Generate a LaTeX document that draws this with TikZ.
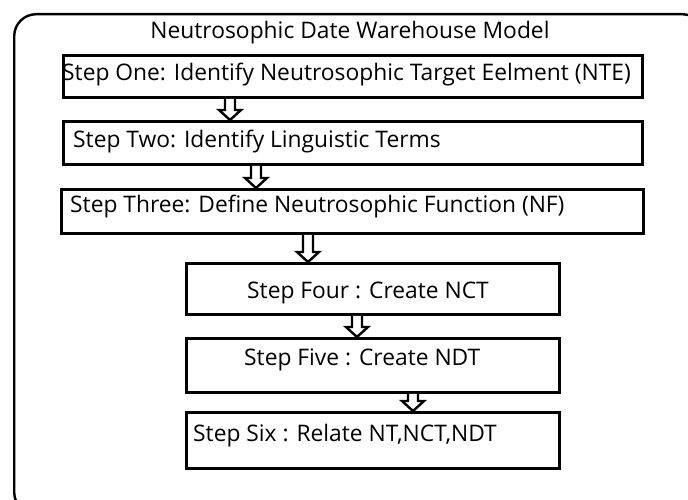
\documentclass[tikz,border=0pt]{standalone}
\usepackage{fontspec}
\setmainfont{Open Sans}
\usetikzlibrary{calc}
\tikzset{
  stepbox/.style={draw, line width=2.8pt, rectangle, inner sep=0pt},
  steptext/.style={anchor=west, inner sep=0pt, font=\fontsize{22.8}{26}\selectfont},
  frame/.style={draw, line width=2.4pt, rounded corners=22pt},
  hollow/.style={draw, line width=2.4pt, line join=miter, fill=white}
}
\newcommand{\harrow}[3]{%
  \draw[hollow]
    ($(#2.south -| #1,0)+(-5,0)$) --
    ($(#3.north -| #1,0)+(-5,-10)$) --
    ($(#3.north -| #1,0)+(-11,-10)$) --
    ($(#3.north -| #1,0)$) --
    ($(#3.north -| #1,0)+(11,-10)$) --
    ($(#3.north -| #1,0)+(5,-10)$) --
    ($(#2.south -| #1,0)+(5,0)$);
}
\begin{document}
\begin{tikzpicture}[x=1pt,y=-1pt]
\useasboundingbox (0,0) rectangle (688,500);
\begin{scope}
\clip (0,0) rectangle (688,500);
\node[frame, minimum width=690pt, minimum height=500pt, anchor=north west] (outer) at (13,13) {};
\end{scope}
\node[anchor=center, inner sep=0pt, font=\fontsize{22.8}{26}\selectfont] (title) at (350,33) {Neutrosophic Date Warehouse Model};

\node[stepbox, minimum width=579pt, minimum height=42pt, anchor=north west] (b1) at (62,54) {};
\node[stepbox, minimum width=579pt, minimum height=43pt, anchor=north west] (b2) at (62,120) {};
\node[stepbox, minimum width=582pt, minimum height=44pt, anchor=north west] (b3) at (60,188) {};
\node[stepbox, minimum width=373pt, minimum height=51pt, anchor=north west] (b4) at (185,262) {};
\node[stepbox, minimum width=373pt, minimum height=54pt, anchor=north west] (b5) at (185,337) {};
\node[stepbox, minimum width=373pt, minimum height=56pt, anchor=north west] (b6) at (185,411) {};

\node[steptext] (t1) at (62,75) {Step One: Identify Neutrosophic Target Eelment (NTE)};
\node[steptext] (t2) at (73,142) {Step Two: Identify Linguistic Terms};
\node[steptext] (t3) at (70,207) {Step Three: Define Neutrosophic Function (NF)};
\node[steptext] (t4) at (247,293) {Step Four : Create NCT};
\node[steptext] (t5) at (244,360) {Step Five : Create NDT};
\node[steptext] (t6) at (193,436) {Step Six : Relate NT,NCT,NDT};

\harrow{230}{b1}{b2}
\harrow{256}{b2}{b3}
\harrow{308}{b3}{b4}
\harrow{357}{b4}{b5}
\harrow{413}{b5}{b6}
\end{tikzpicture}
\end{document}
